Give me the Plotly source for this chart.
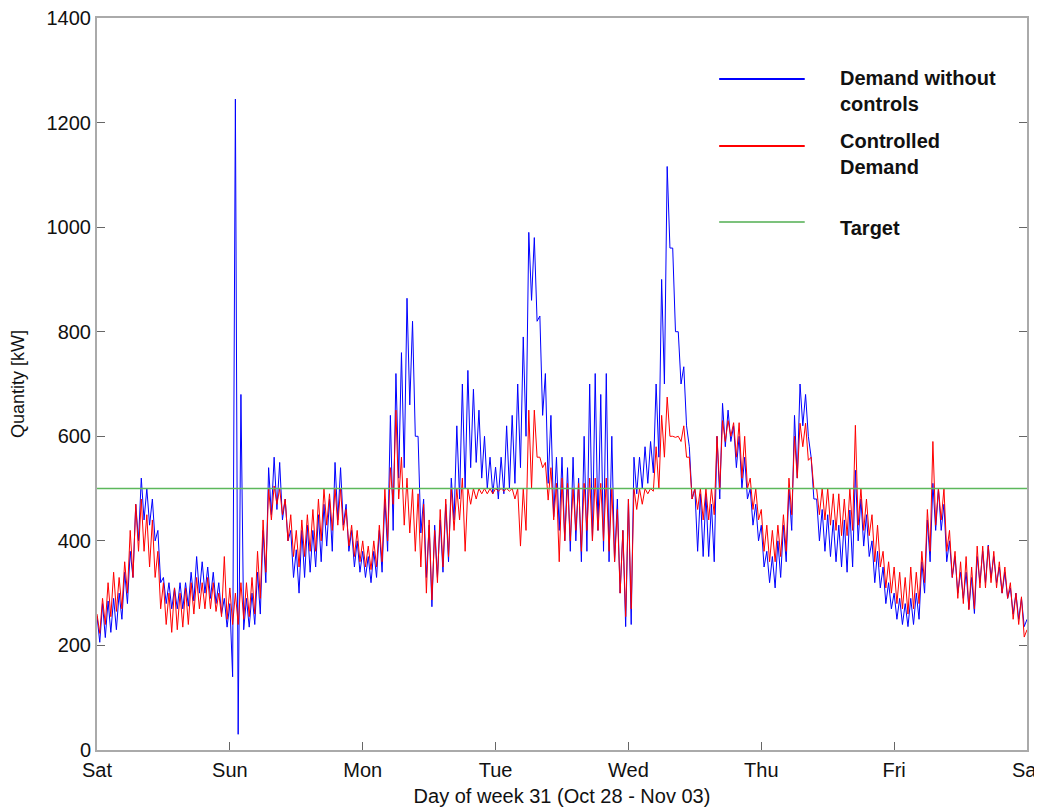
import plotly.graph_objects as go

day_labels = ["Sat", "Sun", "Mon", "Tue", "Wed", "Thu", "Fri", "Sat"]
target_kw = 500

# Hourly upper / lower envelope values (kW), Sat 00h .. Fri 23h, plus final point
blue_hi = [
    256, 280, 285, 290, 300, 340, 380, 470, 520, 500, 480, 420, 330, 320, 310, 320, 320, 340, 370, 360, 350, 340, 320, 290,
    280, 1245, 680, 290, 300, 340, 420, 540, 560, 550, 480, 420, 383, 420, 430, 420, 450, 470, 480, 550, 540, 470, 420, 400,
    380, 370, 380, 420, 480, 640, 720, 760, 864, 820, 600, 480, 430, 430, 440, 470, 520, 620, 700, 726, 690, 650, 600, 560,
    541, 560, 620, 640, 700, 790, 990, 980, 830, 720, 640, 560, 560, 540, 560, 520, 600, 700, 720, 680, 720, 600, 480, 420,
    480, 560, 560, 580, 590, 700, 900, 1116, 960, 800, 733, 580, 500, 490, 490, 470, 600, 663, 650, 620, 600, 560, 500, 470,
    430, 380, 370, 400, 430, 500, 640, 700, 680, 560, 480, 460, 450, 440, 430, 440, 459, 535, 480, 450, 400, 380, 350, 320,
    300, 290, 280, 290, 300, 360, 440, 510, 500, 470, 400, 370, 340, 340, 330, 370, 380, 392, 370, 350, 340, 310, 300, 290,
]
blue_lo = [
    206, 215, 225, 230, 250, 280, 330, 400, 440, 430, 400, 320, 280, 270, 270, 270, 275, 285, 300, 300, 290, 280, 260, 235,
    140, 30, 230, 235, 240, 260, 320, 450, 460, 440, 400, 330, 300, 330, 340, 350, 360, 390, 380, 440, 430, 380, 350, 340,
    330, 320, 330, 340, 380, 420, 520, 540, 660, 600, 415, 330, 274, 330, 340, 360, 440, 480, 500, 540, 550, 520, 500, 490,
    480, 490, 500, 510, 540, 600, 860, 820, 640, 510, 446, 420, 400, 380, 400, 360, 380, 400, 420, 380, 360, 360, 300, 236,
    240, 490, 500, 510, 530, 560, 700, 960, 800, 700, 620, 480, 380, 370, 370, 360, 480, 580, 590, 540, 500, 480, 430, 400,
    350, 320, 310, 330, 360, 420, 520, 620, 600, 480, 400, 380, 370, 360, 350, 340, 350, 400, 390, 370, 320, 310, 280, 270,
    250, 240, 236, 240, 250, 300, 360, 420, 420, 360, 330, 300, 290, 270, 261, 320, 320, 330, 320, 300, 290, 260, 250, 236,
]
blue_end = 250

red_hi = [
    260, 290, 320, 340, 330, 360, 420, 470, 480, 450, 440, 380, 320, 300, 310, 300, 310, 320, 330, 320, 330, 320, 300, 370,
    310, 300, 320, 320, 330, 380, 440, 500, 505, 500, 480, 450, 420, 440, 450, 460, 480, 500, 490, 500, 500, 460, 430, 420,
    400, 390, 400, 430, 500, 540, 650, 560, 520, 500, 490, 470, 440, 420, 460, 480, 500, 500, 520, 500, 500, 500, 500, 500,
    500, 500, 500, 500, 500, 500, 650, 650, 560, 550, 540, 510, 520, 510, 500, 510, 510, 520, 520, 510, 520, 500, 460, 420,
    480, 500, 500, 500, 500, 580, 640, 675, 600, 600, 620, 560, 500, 500, 500, 500, 600, 630, 630, 626, 626, 600, 520, 500,
    460, 430, 420, 430, 450, 520, 600, 625, 625, 560, 500, 500, 500, 490, 490, 480, 500, 621, 500, 480, 450, 430, 380, 360,
    350, 340, 330, 350, 340, 380, 460, 590, 500, 500, 420, 380, 360, 370, 350, 390, 390, 390, 380, 360, 350, 320, 300, 293,
]
red_lo = [
    223, 240, 255, 265, 270, 300, 330, 380, 380, 350, 330, 270, 240, 225, 230, 235, 240, 260, 270, 270, 270, 265, 255, 250,
    240, 240, 250, 255, 260, 290, 340, 440, 470, 450, 400, 370, 350, 370, 380, 380, 400, 430, 420, 430, 420, 390, 370, 360,
    350, 345, 350, 360, 400, 470, 480, 430, 415, 380, 350, 300, 287, 320, 350, 370, 420, 440, 380, 470, 480, 490, 490, 490,
    495, 495, 495, 480, 390, 420, 500, 560, 540, 478, 440, 360, 400, 400, 420, 380, 420, 400, 420, 400, 380, 360, 300, 255,
    270, 460, 470, 490, 495, 500, 560, 600, 598, 590, 560, 480, 460, 440, 440, 450, 500, 590, 600, 560, 520, 500, 460, 440,
    380, 360, 360, 370, 380, 450, 520, 580, 554, 500, 450, 440, 430, 420, 410, 410, 420, 430, 420, 410, 360, 350, 310, 300,
    280, 270, 260, 270, 280, 320, 380, 430, 440, 380, 330, 290, 280, 268, 270, 310, 310, 320, 310, 300, 290, 250, 240, 216,
]
red_end = 230


def interleave(hi, lo, end):
    xs, ys = [], []
    for i, (h, l) in enumerate(zip(hi, lo)):
        xs += [i / 24.0, (i + 0.5) / 24.0]
        ys += [h, l]
    xs.append(len(hi) / 24.0)
    ys.append(end)
    return xs, ys


bx, by = interleave(blue_hi, blue_lo, blue_end)
rx, ry = interleave(red_hi, red_lo, red_end)

FONT = "Liberation Sans, Arial, sans-serif"

fig = go.Figure()
fig.add_trace(go.Scatter(x=bx, y=by, mode="lines", line=dict(color="#0000ff", width=1),
                         name="Demand without controls", showlegend=False))
fig.add_trace(go.Scatter(x=rx, y=ry, mode="lines", line=dict(color="#ff0000", width=1),
                         name="Controlled Demand", showlegend=False))
fig.add_trace(go.Scatter(x=[0, 7], y=[target_kw, target_kw], mode="lines",
                         line=dict(color="#5cb85c", width=1.5), name="Target", showlegend=False))

# Legend drawn inside plot (paper coords)
leg = [
    ("#0000ff", 0.9167, "Demand without<br>controls", 0.9003),
    ("#ff0000", 0.8251, "Controlled<br>Demand", 0.8142),
    ("#7cc27c", 0.7213, "Target", 0.7131),
]
for col, ly, txt, ty in leg:
    fig.add_shape(type="line", xref="paper", yref="paper", x0=0.669, x1=0.761, y0=ly, y1=ly,
                  line=dict(color=col, width=2))
    fig.add_annotation(xref="paper", yref="paper", x=0.7968, y=ty, text="<b>" + txt + "</b>",
                       showarrow=False, xanchor="left", yanchor="middle", align="left",
                       font=dict(family=FONT, size=20, color="#111"))

axis_common = dict(showline=True, linecolor="#aaaaaa", linewidth=2, showgrid=False, zeroline=False,
                   ticks="inside", ticklen=8, tickcolor="#666666", tickwidth=1, automargin=False,
                   ticklabeloverflow="allow",
                   tickfont=dict(family=FONT, size=20, color="#111"))

fig.update_xaxes(range=[0, 7], tickvals=list(range(8)), ticktext=day_labels, mirror=True,
                 ticklabelstandoff=1,
                 title=dict(text="Day of week 31 (Oct 28 - Nov 03)", standoff=10,
                            font=dict(family=FONT, size=20, color="#111")),
                 **axis_common)
fig.update_yaxes(range=[0, 1400], tickvals=list(range(0, 1401, 200)), mirror="ticks",
                 title=dict(text="Quantity [kW]", standoff=18,
                            font=dict(family=FONT, size=18, color="#111")),
                 **axis_common)

# page body has an 8px margin, so the figure is sized/offset to land the plot where the reference has it
fig.update_layout(width=1034, height=799, margin=dict(l=89, r=15, t=10, b=57),
                  plot_bgcolor="white", paper_bgcolor="white", showlegend=False)

fig.write_html("out.html")
